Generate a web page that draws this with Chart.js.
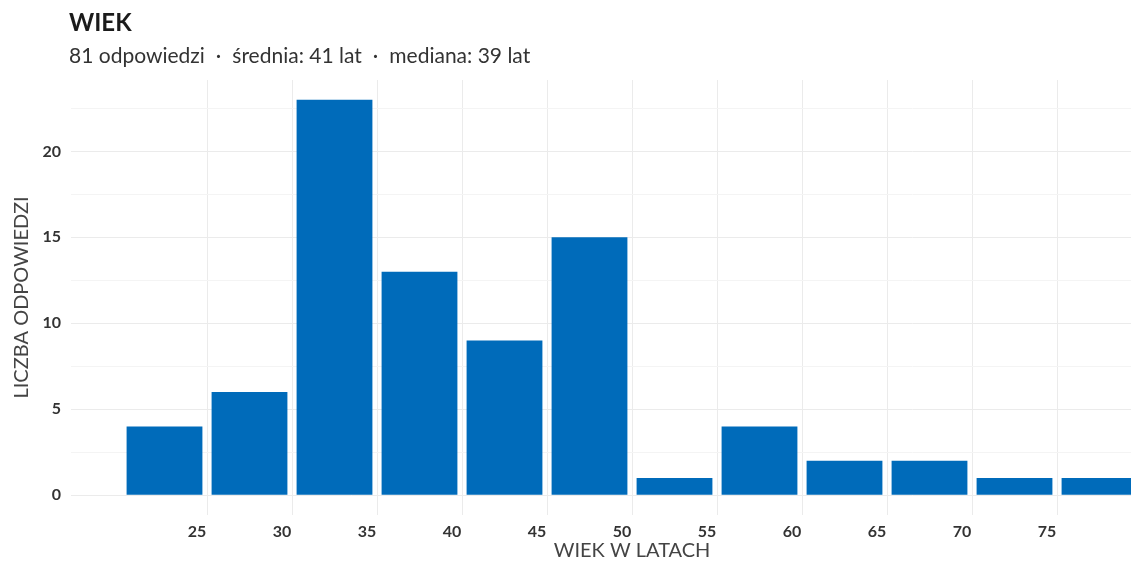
<!DOCTYPE html>
<html>
<head>
<meta charset="utf-8">
<script src="https://cdn.jsdelivr.net/npm/chart.js"></script>
<style>
  html, body { margin: 0; padding: 0; background: #fff; overflow: hidden; }
  #wrap { position: relative; width: 1131px; height: 562px; overflow: hidden; }
  #chart { position: absolute; left: 0; top: 0; }
  .title { position: absolute; left: 69px; top: 8px; font: bold 24px Lato, sans-serif; line-height: 1.2; color: #1b1b1b; white-space: nowrap; }
  .subtitle { position: absolute; left: 69px; top: 42px; font: 21px Lato, sans-serif; line-height: 1.2; color: #333; white-space: nowrap; }
  .sep { margin: 0 11px; }
</style>
</head>
<body>
<div id="wrap">
  <canvas id="chart" width="1200" height="562"></canvas>
  <div class="title">WIEK</div>
  <div class="subtitle">81 odpowiedzi<span class="sep">·</span>średnia: 41 lat<span class="sep">·</span>mediana: 39 lat</div>
</div>
<script>
// histogram bins (5-year wide), drawn at their centres
const binCenters = [22.5, 27.5, 32.5, 37.5, 42.5, 47.5, 52.5, 57.5, 62.5, 67.5, 72.5, 77.5];
const counts = [4, 6, 23, 13, 9, 15, 1, 4, 2, 2, 1, 1];

const xTicks = [25, 30, 35, 40, 45, 50, 55, 60, 65, 70, 75];
const yTicks = [0, 5, 10, 15, 20];
const yMinorTicks = [2.5, 7.5, 12.5, 17.5, 22.5];

const barColor = '#006BBA';
const majorGrid = '#EBEBEB';
const minorGrid = '#F4F4F4';

const ctx = document.getElementById('chart').getContext('2d');
const histChart = new Chart(ctx, {
  type: 'bar',
  data: {
    datasets: [{
      label: 'Liczba odpowiedzi',
      data: binCenters.map((x, i) => ({ x: x, y: counts[i] })),
      backgroundColor: barColor,
      borderWidth: 0,
      barPercentage: 0.892,
      categoryPercentage: 1
    }]
  },
  options: {
    responsive: false,
    animation: false,
    layout: { padding: { top: 80, right: 7, bottom: 0, left: 0 } },
    plugins: {
      legend: { display: false },
      tooltip: { enabled: false }
    },
    scales: {
      x: {
        type: 'linear',
        min: 17,
        max: 83,
        offset: false,
        afterBuildTicks: scale => { scale.ticks = xTicks.map(v => ({ value: v })); },
        afterFit: scale => { scale.height = 47; },
        grid: { offset: false, color: majorGrid, lineWidth: 1, drawTicks: false },
        border: { display: false },
        ticks: {
          autoSkip: false,
          maxRotation: 0,
          padding: 7,
          labelOffset: -10,
          color: '#333',
          font: { family: 'Lato', size: 16, weight: 'bold' }
        },
        title: {
          display: true,
          text: 'WIEK W LATACH',
          color: '#444',
          font: { family: 'Lato', size: 20 },
          padding: { top: 0, bottom: -1 }
        }
      },
      y: {
        min: -1.15,
        max: 24.15,
        afterBuildTicks: scale => {
          scale.ticks = yTicks.concat(yMinorTicks).sort((a, b) => a - b).map(v => ({ value: v }));
        },
        afterFit: scale => { scale.width = 71; },
        grid: {
          drawTicks: false,
          color: c => (c.tick && yTicks.includes(c.tick.value)) ? majorGrid : minorGrid,
          lineWidth: 1
        },
        border: { display: false },
        ticks: {
          padding: 10,
          color: '#333',
          font: { family: 'Lato', size: 16, weight: 'bold' },
          callback: value => yTicks.includes(value) ? value : ''
        },
        title: {
          display: true,
          text: 'LICZBA ODPOWIEDZI',
          color: '#444',
          font: { family: 'Lato', size: 20 },
          padding: { top: 10, bottom: 0 }
        }
      }
    }
  }
});
</script>
</body>
</html>
